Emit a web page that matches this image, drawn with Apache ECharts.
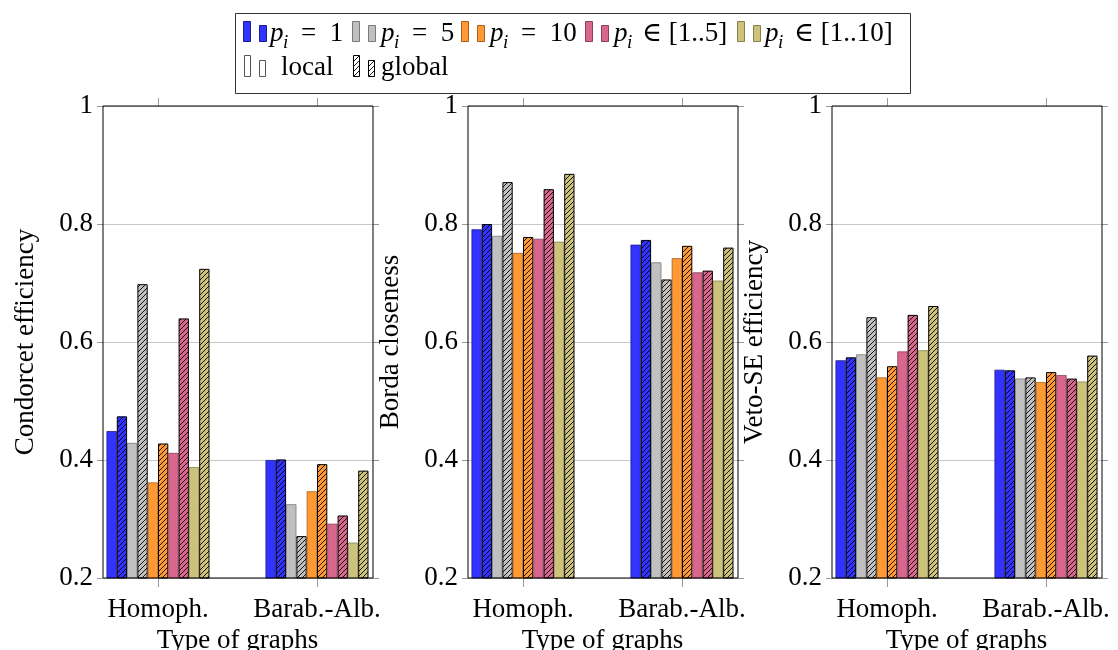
<!DOCTYPE html>
<html>
<head>
<meta charset="utf-8">
<script src="https://cdn.jsdelivr.net/npm/echarts@6/dist/echarts.min.js"></script>
<style>html,body{margin:0;padding:0;background:#fff;}#c{width:1118px;height:650px;}</style>
</head>
<body>
<div id="c"></div>
<script>
// ---- data ----
const categories = ['Homoph.', 'Barab.-Alb.'];
const yTicks = [0.2, 0.4, 0.6, 0.8, 1];
const seriesNames = ['p=1 local', 'p=1 global', 'p=5 local', 'p=5 global', 'p=10 local', 'p=10 global',
  'p in [1..5] local', 'p in [1..5] global', 'p in [1..10] local', 'p in [1..10] global'];
const legendLabels = ['=  1', '=  5', '=  10', '\u2208 [1..5]', '\u2208 [1..10]'];
const panelTitles = ['Condorcet efficiency', 'Borda closeness', 'Veto-SE efficiency'];
const xTitle = 'Type of graphs';

const condorcetHomoph = [0.449, 0.474, 0.429, 0.698, 0.362, 0.428, 0.412, 0.640, 0.388, 0.724];
const condorcetBarab  = [0.400, 0.401, 0.325, 0.271, 0.347, 0.393, 0.292, 0.306, 0.260, 0.382];
const bordaHomoph     = [0.791, 0.800, 0.780, 0.871, 0.751, 0.778, 0.775, 0.859, 0.770, 0.885];
const bordaBarab      = [0.765, 0.773, 0.735, 0.706, 0.742, 0.763, 0.718, 0.721, 0.704, 0.760];
const vetoHomoph      = [0.569, 0.574, 0.579, 0.642, 0.540, 0.559, 0.584, 0.646, 0.586, 0.661];
const vetoBarab       = [0.553, 0.552, 0.538, 0.540, 0.532, 0.549, 0.544, 0.538, 0.533, 0.577];

// ---- style ----
const pColors  = ['#3333ff', '#c0c0c0', '#ff9933', '#d9668c', '#ccc27c'];
const pBorders = ['#1c1c8c', '#7a7a7a', '#a8601f', '#8a3e5a', '#85804f'];
const FONT = '"Liberation Serif", "DejaVu Serif", serif';
const FS = 27;

function hatch(color) {
  const c = document.createElement('canvas');
  c.width = 5; c.height = 5;
  const g = c.getContext('2d');
  g.fillStyle = color; g.fillRect(0, 0, 5, 5);
  g.strokeStyle = '#000'; g.lineWidth = 0.9;
  g.beginPath();
  g.moveTo(-1, 6); g.lineTo(6, -1);
  g.moveTo(-1, 1); g.lineTo(1, -1);
  g.moveTo(4, 6); g.lineTo(6, 4);
  g.stroke();
  return c;
}

const panelData = [
  [condorcetHomoph, condorcetBarab],
  [bordaHomoph, bordaBarab],
  [vetoHomoph, vetoBarab]
];

const frameLefts = [103, 468, 832];
const frameW = 270;
const TOP = 106, BOTTOM = 72;

const grid = [], xAxis = [], yAxis = [], series = [];
// frame grids 0..2
frameLefts.forEach((L) => {
  grid.push({left: L, width: frameW, top: TOP, bottom: BOTTOM, show: true, outerBoundsMode: 'none', containLabel: false,
    borderColor: '#000', borderWidth: 1, backgroundColor: 'transparent', z: 5});
});
// bar grids 3..5
frameLefts.forEach((L) => {
  grid.push({left: L - 24.5, width: 318, top: TOP, bottom: BOTTOM, show: false, outerBoundsMode: 'none', containLabel: false});
});
// xAxes: 0..2 frame hidden
frameLefts.forEach((L, p) => {
  xAxis.push({type: 'value', gridIndex: p, min: 0, max: 1, show: false});
});
// 3..5 bar bottom
frameLefts.forEach((L, p) => {
  xAxis.push({type: 'category', gridIndex: 3 + p, data: categories, position: 'bottom',
    axisLine: {show: false},
    axisTick: {show: true, alignWithLabel: true, length: 9, lineStyle: {color: '#999'}},
    axisLabel: {show: true, interval: 0, hideOverlap: false, margin: 18, fontFamily: FONT, fontSize: FS, color: '#000'},
    name: xTitle, nameLocation: 'middle', nameGap: 41,
    nameTextStyle: {fontFamily: FONT, fontSize: FS, color: '#000'}
  });
});
// 6..8 bar top
frameLefts.forEach((L, p) => {
  xAxis.push({type: 'category', gridIndex: 3 + p, data: categories, position: 'top',
    axisLine: {show: false},
    axisTick: {show: true, alignWithLabel: true, interval: 0, length: 8, lineStyle: {color: '#999'}},
    axisLabel: {show: false}
  });
});
// yAxes: 0..2 frame left
frameLefts.forEach((L, p) => {
  yAxis.push({type: 'value', gridIndex: p, min: yTicks[0], max: yTicks[yTicks.length - 1],
    interval: 0.2, position: 'left',
    axisLine: {show: false},
    axisTick: {show: true, length: 6, lineStyle: {color: '#999'}},
    axisLabel: {margin: 10, fontFamily: FONT, fontSize: FS, color: '#000',
      formatter: (v) => { const t = yTicks.find(x => Math.abs(x - v) < 1e-6); return t === undefined ? '' : String(t); }},
    splitLine: {show: true, lineStyle: {color: '#c8c8c8', width: 1}},
    name: panelTitles[p], nameLocation: 'middle', nameGap: 64,
    nameTextStyle: {fontFamily: FONT, fontSize: FS, color: '#000'}
  });
});
// 3..5 frame right
frameLefts.forEach((L, p) => {
  yAxis.push({type: 'value', gridIndex: p, min: 0.2, max: 1, interval: 0.2, position: 'right',
    axisLine: {show: false},
    axisTick: {show: true, length: 6, lineStyle: {color: '#999'}},
    axisLabel: {show: false}, splitLine: {show: false}
  });
});
// 6..8 bar hidden
frameLefts.forEach((L, p) => {
  yAxis.push({type: 'value', gridIndex: 3 + p, min: 0.2, max: 1, show: false, splitLine: {show: false}});
});

panelData.forEach((pd, p) => {
  seriesNames.forEach((nm, i) => {
    const k = Math.floor(i / 2);
    const global = i % 2 === 1;
    series.push({
      name: nm, type: 'bar', xAxisIndex: 3 + p, yAxisIndex: 6 + p,
      data: [pd[0][i], pd[1][i]],
      barWidth: 10.3, barGap: '0%', clip: true, silent: true, animation: false,
      itemStyle: global
        ? {color: {image: hatch(pColors[k]), repeat: 'repeat'}, borderColor: '#000', borderWidth: 1}
        : {color: pColors[k], borderColor: pBorders[k], borderWidth: 0.8}
    });
  });
});

// ---- legend (graphic) ----
const graphic = [];
graphic.push({type: 'rect', shape: {x: 235.5, y: 13.5, width: 675, height: 80},
  style: {fill: '#fff', stroke: '#333', lineWidth: 1}, z: 10});
const swX = [243, 352, 461, 585, 737];
const pX = [270, 381, 490, 614, 765];
const eqX = [301, 412, 521, 642, 794];
swX.forEach((x, k) => {
  graphic.push({type: 'rect', shape: {x: x + 0.5, y: 21.5, width: 7, height: 20},
    style: {fill: pColors[k], stroke: pBorders[k], lineWidth: 1}, z: 11});
  graphic.push({type: 'rect', shape: {x: x + 16.5, y: 25.5, width: 7, height: 16},
    style: {fill: pColors[k], stroke: pBorders[k], lineWidth: 1}, z: 11});
  graphic.push({type: 'text', x: pX[k], y: 34, z: 11,
    style: {text: 'p', font: 'italic ' + FS + 'px ' + FONT, fill: '#000', verticalAlign: 'middle'}});
  graphic.push({type: 'text', x: pX[k] + 13, y: 43, z: 11,
    style: {text: 'i', font: 'italic 19px ' + FONT, fill: '#000', verticalAlign: 'middle'}});
  graphic.push({type: 'text', x: eqX[k], y: 34, z: 11,
    style: {text: legendLabels[k], font: FS + 'px ' + FONT, fill: '#000', verticalAlign: 'middle'}});
});
// row 2
graphic.push({type: 'rect', shape: {x: 244.5, y: 55.5, width: 6, height: 21},
  style: {fill: '#fff', stroke: '#555', lineWidth: 1}, z: 11});
graphic.push({type: 'rect', shape: {x: 259.5, y: 60.5, width: 6, height: 16},
  style: {fill: '#fff', stroke: '#555', lineWidth: 1}, z: 11});
graphic.push({type: 'text', x: 281, y: 68, z: 11,
  style: {text: 'local', font: FS + 'px ' + FONT, fill: '#000', verticalAlign: 'middle'}});
graphic.push({type: 'rect', shape: {x: 353.5, y: 55.5, width: 6, height: 21},
  style: {fill: {image: hatch('#fff'), repeat: 'repeat'}, stroke: '#000', lineWidth: 1}, z: 11});
graphic.push({type: 'rect', shape: {x: 368.5, y: 60.5, width: 6, height: 16},
  style: {fill: {image: hatch('#fff'), repeat: 'repeat'}, stroke: '#000', lineWidth: 1}, z: 11});
graphic.push({type: 'text', x: 381, y: 68, z: 11,
  style: {text: 'global', font: FS + 'px ' + FONT, fill: '#000', verticalAlign: 'middle'}});

const chart = echarts.init(document.getElementById('c'), null, {renderer: 'canvas'});
chart.setOption({
  animation: false,
  backgroundColor: '#fff',
  grid, xAxis, yAxis, series, graphic
});
</script>
</body>
</html>
